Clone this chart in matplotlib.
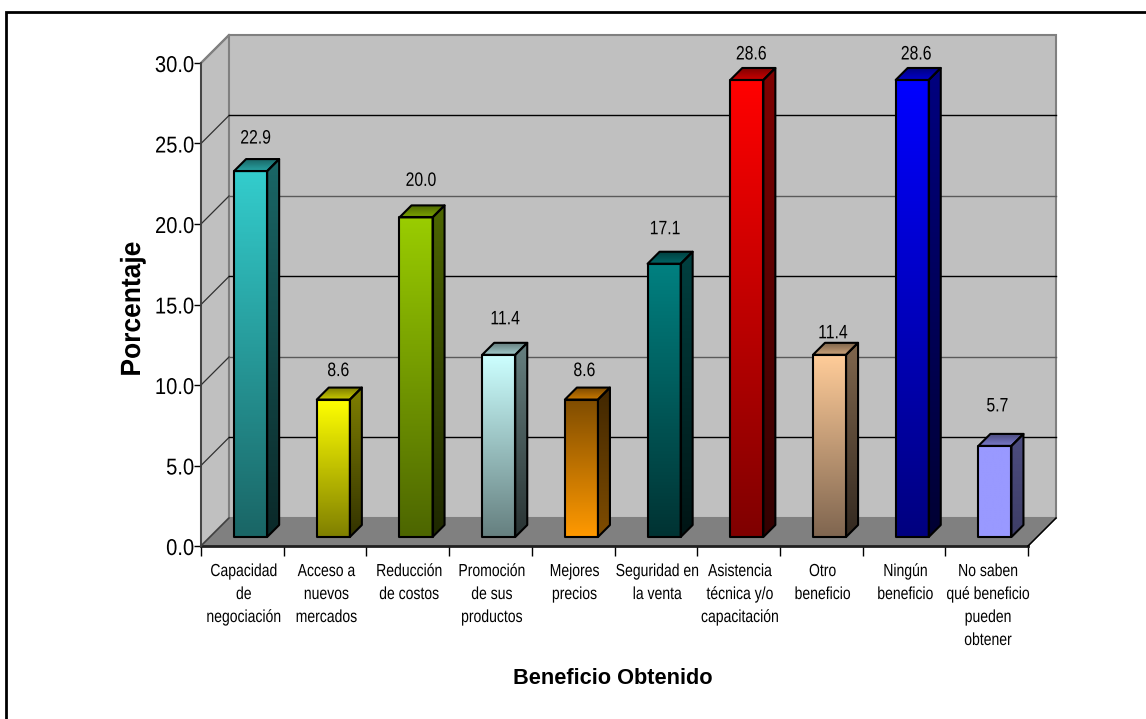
import numpy as np
import matplotlib
matplotlib.use("Agg")
import matplotlib.pyplot as plt
import matplotlib.patheffects as pe
from matplotlib.colors import LinearSegmentedColormap, to_rgb
from matplotlib.patches import Polygon
from matplotlib.lines import Line2D
from matplotlib.transforms import Affine2D

plt.rcParams['font.family'] = ['Liberation Sans', 'DejaVu Sans']

categorias = ["Capacidad\nde\nnegociación", "Acceso a\nnuevos\nmercados", "Reducción\nde costos",
              "Promoción\nde sus\nproductos", "Mejores\nprecios", "Seguridad en\nla venta",
              "Asistencia\ntécnica y/o\ncapacitación", "Otro\nbeneficio", "Ningún\nbeneficio",
              "No saben\nqué beneficio\npueden\nobtener"]
valores = [22.9, 8.6, 20.0, 11.4, 8.6, 17.1, 28.6, 11.4, 28.6, 5.7]
y_ticks = [0, 5, 10, 15, 20, 25, 30]

# color arriba / color abajo de cada barra
color_arriba = ["#33cccc", "#ffff00", "#99cc00", "#ccffff", "#804d00",
                "#008080", "#ff0000", "#ffcc99", "#0000ff", "#9999ff"]
color_abajo = ["#1a6666", "#808000", "#4d6600", "#668080", "#ff9900",
               "#003333", "#800000", "#806650", "#000080", "#9999ff"]

# las etiquetas de valor no van a la misma distancia de cada barra (en pixeles)
sep_etiqueta = [32, 28, 36, 35, 28, 34, 25, 21, 25, 39]
corr_etiqueta = [5, 5, 5, 6.5, 3, 1, 4.5, 3.5, 4, 2.5]
color_rejilla = {5: "black", 10: "#5a5a5a", 15: "black", 20: "#5a5a5a", 25: "black"}

W, H = 1146, 719
fig = plt.figure(figsize=(W / 100, H / 100), dpi=100)
fig.patch.set_facecolor("white")

# marco: solo queda a la vista arriba y a la izquierda
fig.add_artist(Line2D([6 / W, 6 / W, 1], [0, 1 - 11.5 / H, 1 - 11.5 / H], transform=fig.transFigure,
                      color="black", lw=2, solid_joinstyle="miter"))

# el plano frontal del grafico
ax = fig.add_axes([201 / W, 1 - 546 / H, 827 / W, 483 / H])
ax.set_xlim(0, 10)
ax.set_ylim(0, 30)
ax.patch.set_visible(False)
for s in ax.spines.values():
    s.set_visible(False)

# profundidad de la caja y de las barras, en unidades de los ejes
dx = 0.339
dy = 1.74
bx = 0.145
by = 0.745
ancho = 0.40
base = 0.56
corr = 0.10
esc_barra = 0.9925


class Angosto(pe.AbstractPathEffect):
    # comprime el texto alrededor de cx o cy (pixeles)
    def __init__(self, cx=0, f=1, cy=0, fy=1):
        super().__init__()
        self.cx = cx
        self.f = f
        self.cy = cy
        self.fy = fy

    def draw_path(self, renderer, gc, tpath, affine, rgbFace=None):
        t = affine + Affine2D().translate(-self.cx, -self.cy).scale(self.f, self.fy).translate(self.cx, self.cy)
        renderer.draw_path(gc, tpath, t, rgbFace)


def cara(puntos, **kw):
    p = Polygon(puntos, closed=True, **kw)
    ax.add_patch(p)
    return p


def degradado(puntos, c1, c2, x0, x1, y0, y1):
    cm = LinearSegmentedColormap.from_list("g", [c2, c1])
    im = ax.imshow(np.linspace(1, 0, 64).reshape(-1, 1), cmap=cm, vmin=0, vmax=1, aspect="auto",
                   extent=(x0, x1, y0, y1), zorder=4, interpolation="bilinear")
    im.set_clip_path(Polygon(puntos, closed=True, transform=ax.transData))


def oscuro(c, f):
    return tuple(np.array(to_rgb(c)) * f)


# paredes y piso
cara([(0, 0), (dx, dy), (dx, 30 + dy), (0, 30)], fc="#c0c0c0", ec="#808080", lw=1.5, zorder=1, clip_on=False)
cara([(dx, dy), (10 + dx, dy), (10 + dx, 30 + dy), (dx, 30 + dy)], fc="#c0c0c0", ec="#808080", lw=1.5,
     zorder=1, clip_on=False)
cara([(0, 0), (10, 0), (10 + dx, dy), (dx, dy)], fc="#808080", ec="#808080", lw=1, zorder=2, clip_on=False)

# lineas de division
for t in y_ticks[1:-1]:
    ax.plot([0, dx], [t, t + dy], color="#303030", lw=0.9, zorder=3, clip_on=False)
    ax.plot([dx, 10 + dx], [t + dy, t + dy], color=color_rejilla[t], lw=1.0, zorder=3, clip_on=False)
ax.plot([0, dx], [30, 30 + dy], color="#808080", lw=1.5, zorder=3, clip_on=False)

# barras
px_y = 483 / 30
for i, v in enumerate(valores):
    x0 = i + 0.5 + corr - ancho / 2
    x1 = x0 + ancho
    y0 = base
    y1 = base + v * esc_barra
    frente = [(x0, y0), (x1, y0), (x1, y1), (x0, y1)]
    lado = [(x1, y0), (x1 + bx, y0 + by), (x1 + bx, y1 + by), (x1, y1)]
    tapa = [(x0, y1), (x1, y1), (x1 + bx, y1 + by), (x0 + bx, y1 + by)]
    c1, c2 = color_arriba[i], color_abajo[i]
    claro = c1 if sum(to_rgb(c1)) >= sum(to_rgb(c2)) else c2
    degradado(frente, c1, c2, x0, x1, y0, y1)
    degradado(lado, oscuro(c1, 0.5), oscuro(c2, 0.4 if claro == c1 else 0.5), x1, x1 + bx, y0, y1 + by)
    degradado(tapa, oscuro(claro, 0.5), oscuro(claro, 0.8), x0, x1 + bx, y1, y1 + by)
    for pts in (frente, lado, tapa):
        cara(pts, fill=False, ec="black", lw=1.5, zorder=5, joinstyle="round", clip_on=False)
    xt = i + 0.5 + corr + corr_etiqueta[i] / 82.7
    yt = y1 + sep_etiqueta[i] / px_y
    ax.text(xt, yt, f"{v:.1f}", ha="center", va="center", fontsize=14, zorder=6, clip_on=False,
            path_effects=[Angosto(ax.transData.transform((xt, 0))[0], 0.81)])

ax.set_xlim(0, 10)
ax.set_ylim(0, 30)

# ejes
ax.plot([0, 10], [0, 0], color="#202020", lw=2, zorder=6, clip_on=False)
ax.plot([0, 0], [0, 30], color="#404040", lw=1.3, zorder=6, clip_on=False)
ax.plot([10, 10 + dx], [0, dy], color="black", lw=1.1, zorder=6, clip_on=False)
ax.plot([0, dx], [0, dy], color="#404040", lw=1.1, zorder=6, clip_on=False)
ax.set_yticks(y_ticks)
ax.set_yticklabels([f"{t:.1f}" for t in y_ticks], fontsize=16.5)
ax.set_xticks(range(11))
ax.set_xticklabels([])
ax.tick_params(axis="y", length=5, width=1, pad=0)
ax.tick_params(axis="x", length=7, width=1)
for lab in ax.get_yticklabels():
    lab.set_path_effects([Angosto(195, 0.88)])
for i, c in enumerate(categorias):
    ax.annotate(c, (i + 0.5, 0), xytext=(1, -13), textcoords="offset points", ha="center", va="top",
                fontsize=12.6, linespacing=1.665, annotation_clip=False,
                path_effects=[Angosto(ax.transData.transform((i + 0.5, 0))[0] + 1.4, 0.8)])

fig.text(613 / W, 1 - 678 / H, "Beneficio Obtenido", ha="center", va="center", fontsize=15.7,
         fontweight="bold")
fig.text(133 / W, 1 - 309 / H, "Porcentaje", ha="center", va="center", rotation=90, fontsize=20,
         fontweight="bold", path_effects=[Angosto(cy=H - 309, fy=0.95)])

fig.savefig("out.png", dpi=100)
